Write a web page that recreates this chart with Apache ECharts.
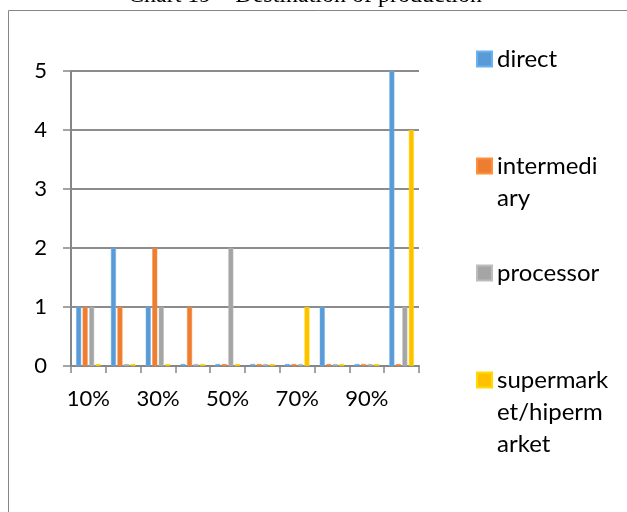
<!DOCTYPE html>
<html>
<head>
<meta charset="utf-8">
<script src="https://cdn.jsdelivr.net/npm/echarts@6/dist/echarts.min.js"></script>
<style>
html,body{margin:0;padding:0;background:#fff;}
#c{width:627px;height:512px;}
</style>
</head>
<body>
<div id="c"></div>
<script>
const categories = ['10%','20%','30%','40%','50%','60%','70%','80%','90%','100%'];
const direct       = [1,2,1,0,0,0,0,1,0,5];
const intermediary = [1,1,2,1,0,0,0,0,0,0];
const processor    = [1,0,1,0,2,0,0,0,0,1];
const supermarket  = [0,0,0,0,0,0,1,0,0,4];
const seriesNames = ['direct','intermediary','processor','supermarket/hipermarket'];
const legendLines = [['direct'],['intermedi','ary'],['processor'],['supermark','et/hiperm','arket']];
const yTicks = [0,1,2,3,4,5];
const titleText = 'Chart 19 \u2013 Destination of production';

const colors = ['#5B9BD5','#ED7D31','#A5A5A5','#FFC000'];
const values = [direct, intermediary, processor, supermarket];
const lh = 32;
const iconCenters = [59, 166, 273, 380];

function legendText(i){
  const lines = legendLines[i];
  const blanks = new Array(lines.length-1).fill('');
  return blanks.concat(lines).join('\n');
}

const chart = echarts.init(document.getElementById('c'));
chart.setOption({
  animation: false,
  color: colors,
  graphic: [
    {type:'rect', shape:{x:8.5,y:10.5,width:700,height:600}, style:{fill:'none', stroke:'#868686', lineWidth:1}, z:-10},
    {type:'text', x:305, y:8, style:{text:titleText, font:'24px "Liberation Serif"', fill:'#000', align:'center', verticalAlign:'bottom'}}
  ],
  legend: seriesNames.map((n,i)=>{
    const nLines = 2*legendLines[i].length-1;
    return {
      data:[n], left:476, top: iconCenters[i] - nLines*lh/2, orient:'vertical', padding:0,
      icon:'rect', itemWidth:15, itemHeight:15,
      formatter: ()=>legendText(i),
      textStyle:{fontFamily:'Lato', fontSize:24, color:'#000', lineHeight:lh}
    };
  }),
  grid: {left:71, top:71, width:348, height:295},
  xAxis: {
    type:'category', data: categories,
    axisLine:{show:true, lineStyle:{color:'#868686', width:2}},
    axisTick:{show:true, interval:0, length:7, lineStyle:{color:'#868686', width:1.5}},
    axisLabel:{interval:1, fontFamily:'Lato', fontSize:22, color:'#000', margin:22}
  },
  yAxis: {
    type:'value', min:0, max:5, interval:1,
    axisLine:{show:true, lineStyle:{color:'#868686', width:2}},
    axisTick:{show:true, length:8, lineStyle:{color:'#868686', width:1.5}},
    axisLabel:{fontFamily:'Lato', fontSize:22, color:'#000', margin:24,
      formatter:(v)=> yTicks.includes(v) ? String(v) : ''},
    splitLine:{show:true, lineStyle:{color:'#8c8c8c', width:2}}
  },
  series: seriesNames.map((n,i)=>({
    name:n, type:'bar', data: values[i], barWidth:5, barGap:'30%', barMinHeight:2,
    itemStyle:{color:colors[i], borderColor:echarts.color.lift(colors[i], -0.15), borderWidth:0.5}
  }))
});
</script>
</body>
</html>
